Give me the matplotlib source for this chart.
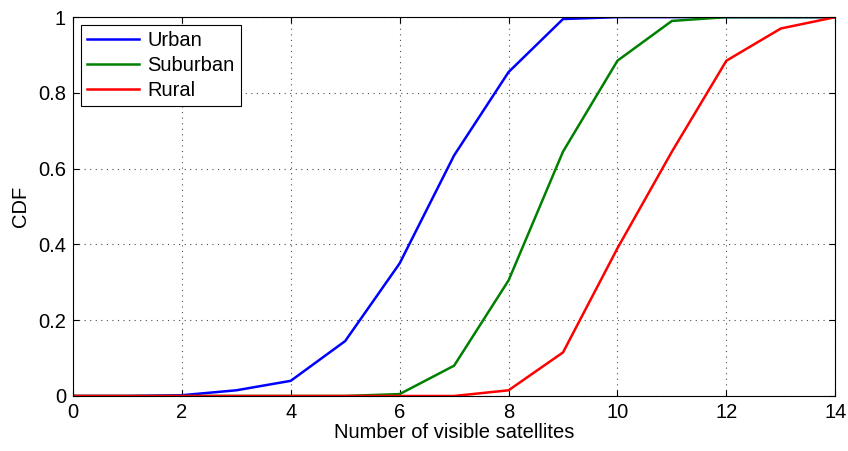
import matplotlib
matplotlib.use('Agg')
import matplotlib.pyplot as plt

plt.rcParams['font.family'] = ['Liberation Sans', 'DejaVu Sans']

# number of visible satellites and CDF per environment
sats = list(range(0, 15))
urban = [0, 0, 0.002, 0.015, 0.04, 0.145, 0.35, 0.635, 0.855, 0.995, 1, 1, 1, 1, 1]
suburban = [0, 0, 0, 0, 0, 0, 0.005, 0.08, 0.305, 0.645, 0.885, 0.99, 1, 1, 1]
rural = [0, 0, 0, 0, 0, 0, 0, 0, 0.015, 0.115, 0.39, 0.645, 0.885, 0.97, 1]

xticks = list(range(0, 15, 2))
yticks = [0, 0.2, 0.4, 0.6, 0.8, 1]
ytick_labels = ['0', '0.2', '0.4', '0.6', '0.8', '1']

fs = 14.5

fig = plt.figure(figsize=(8.48, 4.51), dpi=100)
ax = fig.add_axes([0.086, 0.122, 0.899, 0.840])

ax.plot(sats, urban, color=(0, 0, 1), lw=1.8, label='Urban')
ax.plot(sats, suburban, color=(0, 0.5, 0), lw=1.8, label='Suburban')
ax.plot(sats, rural, color=(1, 0, 0), lw=1.8, label='Rural')

ax.set_xlim(0, 14)
ax.set_ylim(0, 1)
ax.set_xticks(xticks)
ax.set_yticks(yticks)
ax.set_yticklabels(ytick_labels)
ax.tick_params(direction='in', top=True, right=True, labelsize=fs, length=4, pad=5)
ax.grid(True, linestyle=(0, (1, 4)), color='0.3', lw=0.8)
for s in ax.spines.values():
    s.set_linewidth(0.8)

ax.set_xlabel('Number of visible satellites', fontsize=fs, labelpad=1)
ax.set_ylabel('CDF', fontsize=fs, labelpad=6)

leg = ax.legend(loc='upper left', fontsize=fs, fancybox=False, framealpha=1,
                edgecolor='black', borderaxespad=0.4, handlelength=2.6,
                labelspacing=0.3, borderpad=0.3, handletextpad=0.4)
leg.get_frame().set_linewidth(0.8)

fig.savefig('out.png', dpi=100)
